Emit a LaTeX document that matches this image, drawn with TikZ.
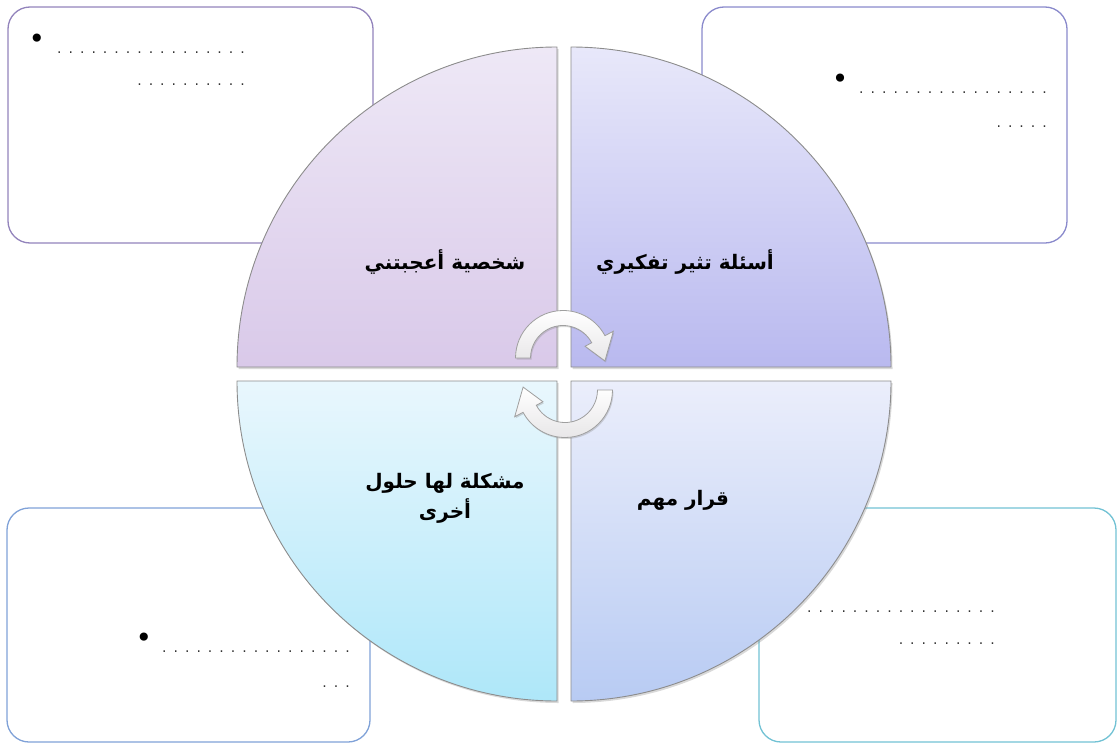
\documentclass[tikz,border=0pt]{standalone}
\usepackage{fontspec}
\setmainfont{DejaVu Sans}
\newfontfamily\arabicfont[Script=Arabic]{DejaVu Sans}
\TeXXeTstate=1
\usetikzlibrary{calc,shadows}
\definecolor{lineTL}{HTML}{9384BC}
\definecolor{lineTR}{HTML}{8A8ACC}
\definecolor{lineBL}{HTML}{80A2D8}
\definecolor{lineBR}{HTML}{72C2D4}
\definecolor{topTL}{HTML}{EEE8F6}
\definecolor{botTL}{HTML}{D9C9E9}
\definecolor{topTR}{HTML}{E8E8FA}
\definecolor{botTR}{HTML}{B9B9EF}
\definecolor{topBL}{HTML}{E9F7FD}
\definecolor{botBL}{HTML}{AEE7F9}
\definecolor{topBR}{HTML}{EBEEFB}
\definecolor{botBR}{HTML}{B8CBF3}
% a row of n spaced dots
\newcommand\dotrow[1]{\foreach\k in {1,...,#1}{\ifnum\k>1\kern7pt\fi.}}

\begin{document}
\begin{tikzpicture}[x=1pt,y=1pt,
 infobox/.style={draw,line width=1.3pt,fill=white,rounded corners=22pt,inner sep=0pt},
 quarter/.style={draw=gray!90,line width=0.9pt,drop shadow={opacity=0.3,shadow xshift=1.5pt,shadow yshift=-2pt}},
 qtext/.style={font=\arabicfont\bfseries\fontsize{20}{30}\selectfont,align=center},
 dots/.style={font=\fontsize{14}{16}\selectfont,text=black!80,inner sep=0pt,anchor=base east},
 bul/.style={font=\fontsize{28}{28}\selectfont,inner sep=0pt},
 cyc/.style={draw=gray!75,line width=0.8pt,top color=white,bottom color=violet!6!gray!18,drop shadow={opacity=0.3,shadow xshift=1pt,shadow yshift=-1.5pt}}]
\useasboundingbox (0,0) rectangle (1118,-744);

% the four note boxes
\node[infobox,draw=lineTL,minimum width=365pt,minimum height=236pt] (boxTL) at (190.5,-125) {};
\node[infobox,draw=lineTR,minimum width=365pt,minimum height=236pt] (boxTR) at (884.5,-125) {};
\node[infobox,draw=lineBL,minimum width=363pt,minimum height=234pt] (boxBL) at (188.5,-625) {};
\node[infobox,draw=lineBR,minimum width=357pt,minimum height=234pt] (boxBR) at (937.5,-625) {};

\node[bul] (bTL) at (37,-41) {•};
\node[dots] (dTL1) at (245,-53) {\dotrow{17}};
\node[dots] (dTL2) at (245,-85) {\dotrow{10}};
\node[bul] (bTR) at (840,-81) {•};
\node[dots] (dTR1) at (1047,-93) {\dotrow{17}};
\node[dots] (dTR2) at (1047,-127) {\dotrow{5}};
\node[bul] (bBL) at (144,-640) {•};
\node[dots] (dBL1) at (350,-652) {\dotrow{17}};
\node[dots] (dBL2) at (350,-687) {\dotrow{3}};
\node[dots] (dBR1) at (995,-612) {\dotrow{17}};
\node[dots] (dBR2) at (995,-644) {\dotrow{9}};

% split disc
\path[quarter,top color=topTL,bottom color=botTL] (557,-367) -- (237,-367) arc[start angle=180,end angle=90,radius=320] -- cycle;
\path[quarter,top color=topTR,bottom color=botTR] (571,-367) -- (571,-47) arc[start angle=90,end angle=0,radius=320] -- cycle;
\path[quarter,top color=topBL,bottom color=botBL] (557,-381) -- (237,-381) arc[start angle=180,end angle=270,radius=320] -- cycle;
\path[quarter,top color=topBR,bottom color=botBR] (571,-381) -- (891,-381) arc[start angle=0,end angle=-90,radius=320] -- cycle;

\node[qtext] (qTL) at (445,-262) {\beginR شخصية أعجبتني\endR};
\node[qtext] (qTR) at (685,-262) {\beginR أسئلة تثير تفكيري\endR};
\node[qtext] (qBL) at (445,-498) {\beginR مشكلة لها حلول\endR\\\beginR أخرى\endR};
\node[qtext] (qBR) at (683,-500) {\beginR قرار مهم\endR};

% cycle arrows
\coordinate (up) at (563,-358);
\coordinate (lo) at (565,-390);
\path[cyc] ($(up)+(180:47.5)$) arc[start angle=180,end angle=28,radius=47.5] -- ($(up)+(28:57)$) -- ($(up)+(-4:42)$) -- ($(up)+(28:25)$) -- ($(up)+(28:32.5)$) arc[start angle=28,end angle=180,radius=32.5] -- cycle;
\path[cyc] ($(lo)+(0:47.5)$) arc[start angle=0,end angle=-152,radius=47.5] -- ($(lo)+(-152:57)$) -- ($(lo)+(-184:42)$) -- ($(lo)+(-152:25)$) -- ($(lo)+(-152:32.5)$) arc[start angle=-152,end angle=0,radius=32.5] -- cycle;
\end{tikzpicture}
\end{document}
